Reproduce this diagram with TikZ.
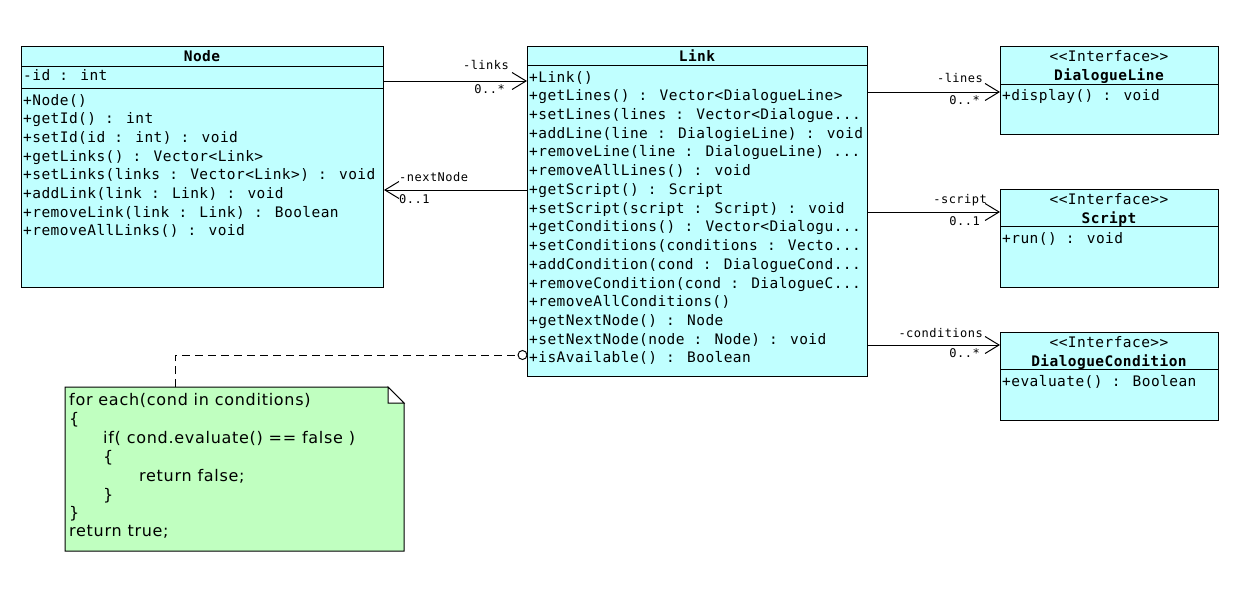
\documentclass[tikz,border=0pt]{standalone}
\usepackage{fontspec}
\usetikzlibrary{arrows.meta}
\newfontfamily\umlmono{DejaVu Sans Mono}[LetterSpace=3]
\newfontfamily\umllab{DejaVu Sans Mono}[LetterSpace=4]
\newfontfamily\umlnote{DejaVu Sans}[LetterSpace=4.5]
\newcommand\tdots{...}
\definecolor{clsfill}{HTML}{C0FFFF}
\definecolor{notefill}{HTML}{C0FFC0}
\tikzset{
  cls/.style={draw, fill=clsfill, line width=1pt, inner sep=0, anchor=north west},
  sep/.style={line width=1pt},
  txt/.style={anchor=base west, inner sep=0, font=\umlmono\fontsize{14.5}{17}\selectfont},
  ttl/.style={anchor=base, inner sep=0, font=\umlmono\bfseries\fontsize{14.5}{17}\selectfont},
  ster/.style={anchor=base, inner sep=0, font=\umlmono\fontsize{14.5}{17}\selectfont},
  lble/.style={anchor=base east, inner sep=0, font=\umllab\fontsize{12}{14}\selectfont},
  lblw/.style={anchor=base west, inner sep=0, font=\umllab\fontsize{12}{14}\selectfont},
  assoc/.style={line width=1pt, -{Straight Barb[length=14pt,width=17pt,line width=1pt]}},
  notetxt/.style={anchor=base west, inner sep=0, font=\umlnote\fontsize{16}{18}\selectfont},
  notelink/.style={line width=1pt, dash pattern=on 8pt off 5pt},
}
\begin{document}
\begin{tikzpicture}[x=1pt,y=-1pt]
\useasboundingbox (0,0) rectangle (1238,610);

% ---------- Node class ----------
\node[cls, minimum width=362pt, minimum height=241pt] (node) at (21,46) {};
\draw[sep] (21,66) -- (383,66);
\draw[sep] (21,88) -- (383,88);
\node[ttl] (nodeT) at (202,61) {Node};
\node[txt] (nodeA) at (23,81) {-id : int};
\foreach \t [count=\i from 0] in {{+Node()},{+getId() : int},{+setId(id : int) : void},{+getLinks() : Vector<Link>},{+setLinks(links : Vector<Link>) : void},{+addLink(link : Link) : void},{+removeLink(link : Link) : Boolean},{+removeAllLinks() : void}}
  \node[txt] (nodeM\i) at (23,105+18.7*\i) {\t};

% ---------- Link class ----------
\node[cls, minimum width=340pt, minimum height=330pt] (link) at (527,46) {};
\draw[sep] (527,65) -- (867,65);
\node[ttl] (linkT) at (697,61) {Link};
\foreach \t [count=\i from 0] in {{+Link()},{+getLines() : Vector<DialogueLine>},{+setLines(lines : Vector<Dialogue\tdots},{+addLine(line : DialogieLine) : void},{+removeLine(line : DialogueLine) \tdots},{+removeAllLines() : void},{+getScript() : Script},{+setScript(script : Script) : void},{+getConditions() : Vector<Dialogu\tdots},{+setConditions(conditions : Vecto\tdots},{+addCondition(cond : DialogueCond\tdots},{+removeCondition(cond : DialogueC\tdots},{+removeAllConditions()},{+getNextNode() : Node},{+setNextNode(node : Node) : void},{+isAvailable() : Boolean}}
  \node[txt] (linkM\i) at (529,82+18.73*\i) {\t};

% ---------- Interfaces ----------
\node[cls, minimum width=218pt, minimum height=88pt] (dl) at (1000,46) {};
\draw[sep] (1000,84) -- (1218,84);
\node[ster] (dlS) at (1109,61) {<<Interface>>};
\node[ttl] (dlT) at (1109,80) {DialogueLine};
\node[txt] (dlM) at (1002,100) {+display() : void};

\node[cls, minimum width=218pt, minimum height=98pt] (sc) at (1000,189) {};
\draw[sep] (1000,226) -- (1218,226);
\node[ster] (scS) at (1109,204) {<<Interface>>};
\node[ttl] (scT) at (1109,223) {Script};
\node[txt] (scM) at (1002,243) {+run() : void};

\node[cls, minimum width=218pt, minimum height=88pt] (dc) at (1000,332) {};
\draw[sep] (1000,369) -- (1218,369);
\node[ster] (dcS) at (1109,347) {<<Interface>>};
\node[ttl] (dcT) at (1109,366) {DialogueCondition};
\node[txt] (dcM) at (1002,386) {+evaluate() : Boolean};

% ---------- Associations ----------
\draw[assoc] ([yshift=-35pt]node.north east) -- ([yshift=-35pt]link.north west);
\node[lble] (l1a) at (509,70) {-links};
\node[lble] (l1b) at (505,93) {0..*};

\draw[assoc] ([yshift=-144pt]link.north west) -- ([yshift=-144pt]node.north east);
\node[lblw] (l2a) at (399,181) {-nextNode};
\node[lblw] (l2b) at (399,203) {0..1};

\draw[assoc] ([yshift=-46pt]link.north east) -- ([yshift=-46pt]dl.north west);
\node[lble] (l3a) at (983,82) {-lines};
\node[lble] (l3b) at (980,104) {0..*};

\draw[assoc] ([yshift=-166pt]link.north east) -- ([yshift=-23pt]sc.north west);
\node[lble] (l4a) at (987,203) {-script};
\node[lble] (l4b) at (980,225) {0..1};

\draw[assoc] ([yshift=-299pt]link.north east) -- ([yshift=-13pt]dc.north west);
\node[lble] (l5a) at (983,337) {-conditions};
\node[lble] (l5b) at (980,357) {0..*};

% ---------- Note ----------
\draw[line width=1pt, fill=notefill] (65,387) -- (388,387) -- (404,403) -- (404,551) -- (65,551) -- cycle;
\draw[line width=1pt, fill=white] (388,387) -- (388,403) -- (404,403) -- cycle;
\coordinate (notetop) at (175,387);
\node[draw, circle, line width=1pt, fill=white, minimum size=9pt, inner sep=0] (pin) at (522.5,355) {};
\draw[notelink] (notetop) -- (175,355) -- (pin.west);

\node[notetxt] (n1) at (69,405) {for each(cond in conditions)};
\node[notetxt] (n2) at (69,424) {\{};
\node[notetxt] (n3) at (103,443) {if( cond.evaluate() == false )};
\node[notetxt] (n4) at (103,462) {\{};
\node[notetxt] (n5) at (139,481) {return false;};
\node[notetxt] (n6) at (103,500) {\}};
\node[notetxt] (n7) at (69,518) {\}};
\node[notetxt] (n8) at (69,536) {return true;};
\end{tikzpicture}
\end{document}
